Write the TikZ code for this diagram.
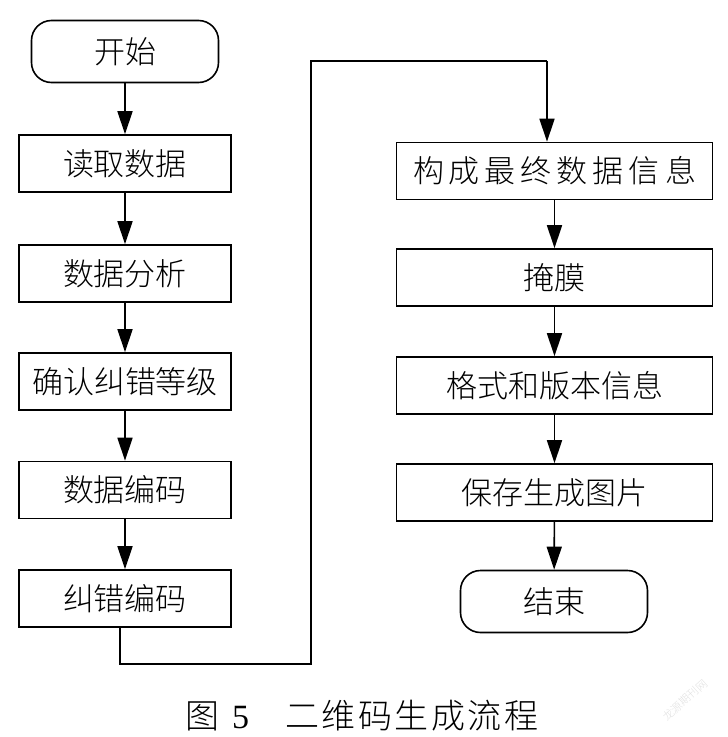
\documentclass[tikz,border=0pt]{standalone}
\usepackage{fontspec}
\setmainfont{Liberation Serif}
\newfontfamily\cjk{Noto Sans CJK SC}[UprightFont=* Light]
\usetikzlibrary{arrows.meta,positioning}
\newcommand{\capsp}{\hspace{2.5pt}}
\begin{document}
\begin{tikzpicture}[x=1pt,y=-1pt,
  every node/.style={font=\cjk\fontsize{31}{34}\selectfont, inner sep=0pt},
  procbox/.style={draw, line width=1.6pt, minimum height=57pt},
  termbox/.style={draw, line width=1.6pt, rounded corners=20pt, minimum width=187pt, minimum height=62pt},
  flow/.style={line width=1.6pt, -{Triangle[width=15pt,length=23pt]}},
  plainline/.style={line width=1.6pt}
]
\useasboundingbox (0,0) rectangle (728,737);
% left column
\node[termbox] (start) at (125,51.5) {开始};
\node[procbox, minimum width=212pt] (b1) at (125,163.5) {读取数据};
\node[procbox, minimum width=212pt] (b2) at (125,273.5) {数据分析};
\node[procbox, minimum width=212pt] (b3) at (125,381.5) {确认纠错等级};
\node[procbox, minimum width=212pt] (b4) at (125,490) {数据编码};
\node[procbox, minimum width=212pt] (b5) at (125,598.5) {纠错编码};
% right column
\node[procbox, minimum width=316pt] (r1) at (554.5,171) {构\hspace{5pt}成\hspace{5pt}最\hspace{5pt}终\hspace{5pt}数\hspace{5pt}据\hspace{5pt}信\hspace{5pt}息};
\node[procbox, minimum width=316pt] (r2) at (554.5,277.5) {掩膜};
\node[procbox, minimum width=316pt] (r3) at (554.5,385.5) {格式和版本信息};
\node[procbox, minimum width=316pt] (r4) at (554.5,492.5) {保存生成图片};
\node[termbox] (end) at (554,601.5) {结束};
% connectors
\draw[flow] (start) -- (b1);
\draw[flow] (b1) -- (b2);
\draw[flow] (b2) -- (b3);
\draw[flow] (b3) -- (b4);
\draw[flow] (b4) -- (b5);
\coordinate (c1) at (120,664);
\coordinate (c2) at (311,664);
\coordinate (c3) at (311,61);
\coordinate (c4) at (547,61);
\draw[plainline] (b5.south -| c1) -- (c1) -- (c2) -- (c3) -- (c4);
\draw[flow] (c4) -- (c4 |- r1.north);
\draw[flow] (r1) -- (r2);
\draw[flow] (r2) -- (r3);
\draw[flow] (r3) -- (r4);
\draw[flow] (r4) -- (end);
% caption
\node[font=\cjk\fontsize{34}{38}\selectfont, anchor=west] (cap) at (185,716) {图\hspace{13pt}{\rmfamily 5}\hspace{36pt}二\capsp 维\capsp 码\capsp 生\capsp 成\capsp 流\capsp 程};
% watermark
\node[font=\cjk\fontsize{11}{12}\selectfont, text=black!12, rotate=42] (wm) at (685,700) {龙源期刊网};
\end{tikzpicture}
\end{document}
